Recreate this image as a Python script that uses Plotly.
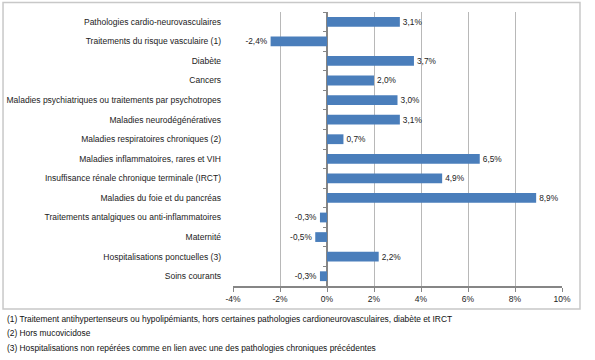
import plotly.graph_objects as go

categories = [
    "Pathologies cardio-neurovasculaires",
    "Traitements du risque vasculaire (1)",
    "Diabète",
    "Cancers",
    "Maladies psychiatriques ou traitements par psychotropes",
    "Maladies neurodégénératives",
    "Maladies respiratoires chroniques (2)",
    "Maladies inflammatoires, rares et VIH",
    "Insuffisance rénale chronique terminale (IRCT)",
    "Maladies du foie et du pancréas",
    "Traitements antalgiques ou anti-inflammatoires",
    "Maternité",
    "Hospitalisations ponctuelles (3)",
    "Soins courants",
]
values = [3.1, -2.4, 3.7, 2.0, 3.0, 3.1, 0.7, 6.5, 4.9, 8.9, -0.3, -0.5, 2.2, -0.3]
x_ticks = [-4, -2, 0, 2, 4, 6, 8, 10]
x_tick_labels = ["-4%", "-2%", "0%", "2%", "4%", "6%", "8%", "10%"]
footnotes = [
    "(1) Traitement antihypertenseurs ou hypolipémiants, hors certaines pathologies cardioneurovasculaires, diabète et IRCT",
    "(2) Hors mucovicidose",
    "(3) Hospitalisations non repérées comme en lien avec une des pathologies chroniques précédentes",
]

FONT = "Liberation Sans"
fig = go.Figure()
fig.add_trace(go.Bar(
    x=values, y=categories, orientation="h",
    marker=dict(color="#4a7ebb", line=dict(width=0)),
    text=values, texttemplate="%{x:.1f}%", textposition="outside",
    textfont=dict(size=8.5, color="#222", family=FONT),
    cliponaxis=False, width=0.5, hoverinfo="skip",
))
fig.add_trace(go.Scatter(
    x=[0] * len(categories), y=categories, yaxis="y2", mode="markers",
    marker=dict(opacity=0), hoverinfo="skip", showlegend=False,
))
n = len(categories)
fig.update_layout(
    width=595, height=360,
    margin=dict(l=233, r=33, t=12, b=74),
    paper_bgcolor="white", plot_bgcolor="white",
    separators=", ",
    showlegend=False,
    hovermode=False,
    font=dict(family=FONT, size=8.5, color="#222"),
    xaxis=dict(
        range=[-4, 10], tickvals=x_ticks, ticktext=x_tick_labels,
        showgrid=True, gridcolor="#b8b8b8", gridwidth=1,
        zeroline=True, zerolinecolor="#868686", zerolinewidth=2,
        showline=True, linecolor="#868686", linewidth=2,
        ticks="outside", ticklen=4, tickcolor="#868686",
        tickfont=dict(size=8.5, family=FONT), automargin=False,
    ),
    yaxis=dict(
        range=[n - 0.5, -0.5], type="category",
        showgrid=False, zeroline=False, showline=False, ticks="",
        tickfont=dict(size=8.5, family=FONT), ticklabelstandoff=11,
        automargin=False,
    ),
    yaxis2=dict(
        range=[n - 0.5, -0.5], type="category", overlaying="y",
        anchor="free", position=4 / 14, side="left",
        showgrid=False, zeroline=False, showline=False, showticklabels=False,
        ticks="outside", ticklen=4, tickcolor="#868686", tickson="boundaries",
        automargin=False,
    ),
)
fig.add_shape(type="rect", xref="paper", yref="paper",
              x0=-0.699, x1=1.0547, y0=-0.084, y1=1.0347,
              line=dict(color="#c8c8c8", width=1.5))
for i, t in enumerate(footnotes):
    fig.add_annotation(text=t, xref="paper", yref="paper", x=-0.694, y=-0.12 - i * 0.053,
                       xanchor="left", yanchor="middle", showarrow=False,
                       font=dict(size=8.4, family=FONT, color="#111"))
fig.write_html("out.html", config={"displayModeBar": False, "staticPlot": True},
               post_script="document.body.style.margin='0';document.body.style.padding='0';")
